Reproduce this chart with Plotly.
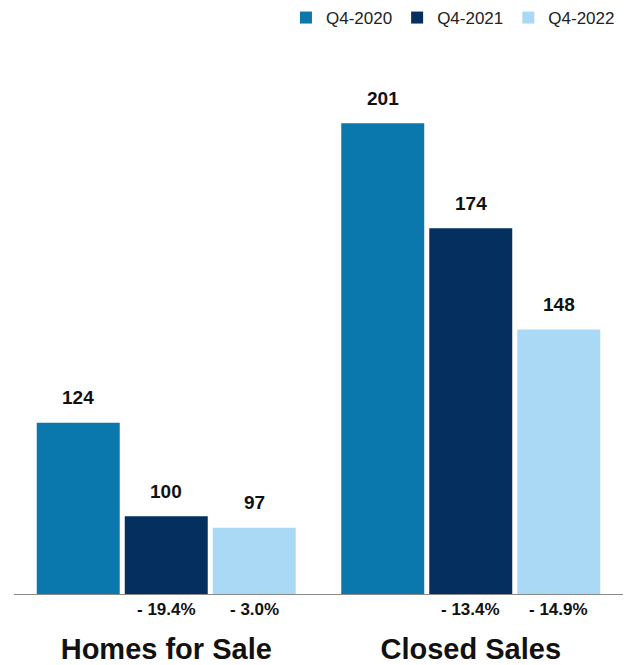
import plotly.graph_objects as go

categories = ["Homes for Sale", "Closed Sales"]
series_names = ["Q4-2020", "Q4-2021", "Q4-2022"]
values_2020 = [124, 201]
values_2021 = [100, 174]
values_2022 = [97, 148]
pct_2021 = ["- 19.4%", "- 13.4%"]
pct_2022 = ["- 3.0%", "- 14.9%"]
colors = ["#0a77ad", "#052f5f", "#a9d9f4"]

series_values = [values_2020, values_2021, values_2022]
series_pct = [None, pct_2021, pct_2022]

FONT = "Arial, 'Liberation Sans', Helvetica, sans-serif"
bargap = 0.133
slot = (1 - bargap) / 3

fig = go.Figure()
for name, vals, col in zip(series_names, series_values, colors):
    fig.add_trace(go.Bar(name=name, x=categories, y=vals, marker_color=col,
                         marker_line_width=0))

annotations = []
for j, vals in enumerate(series_values):
    for i, v in enumerate(vals):
        xpos = i + (j - 1) * slot
        annotations.append(dict(x=xpos, y=v, xref="x", yref="y", text=f"<b>{v}</b>",
                                showarrow=False, yanchor="middle", yshift=25,
                                font=dict(size=19, color="#111", family=FONT)))
        pl = series_pct[j]
        if pl is not None:
            annotations.append(dict(x=xpos, y=0, xref="x", yref="paper", text=f"<b>{pl[i]}</b>",
                                    showarrow=False, yanchor="middle", yshift=-15,
                                    font=dict(size=17, color="#111", family=FONT)))

fig.update_layout(
    width=632, height=665,
    margin=dict(l=14, r=9, t=40, b=71, autoexpand=False),
    paper_bgcolor="white", plot_bgcolor="white",
    barmode="group", bargap=bargap, bargroupgap=0.057,
    font=dict(family=FONT, color="#111"),
    legend=dict(orientation="h", x=0.995, xanchor="right", y=1.0, yanchor="top",
                yref="container", font=dict(size=17, color="#222"),
                traceorder="normal", itemwidth=30),
    xaxis=dict(showline=True, linecolor="#8a8a8a", linewidth=1, ticks="",
               tickfont=dict(size=29, color="#111", family=FONT),
               ticklabelstandoff=29, showgrid=False, automargin=False),
    yaxis=dict(range=[80, 222.4], visible=False, showgrid=False, zeroline=False,
               automargin=False),
    annotations=annotations,
)
fig.update_xaxes(tickvals=categories, ticktext=[f"<b>{c}</b>" for c in categories])

fig.write_html("out.html", config={"displayModeBar": False},
               post_script="document.body.style.margin='0px';")
